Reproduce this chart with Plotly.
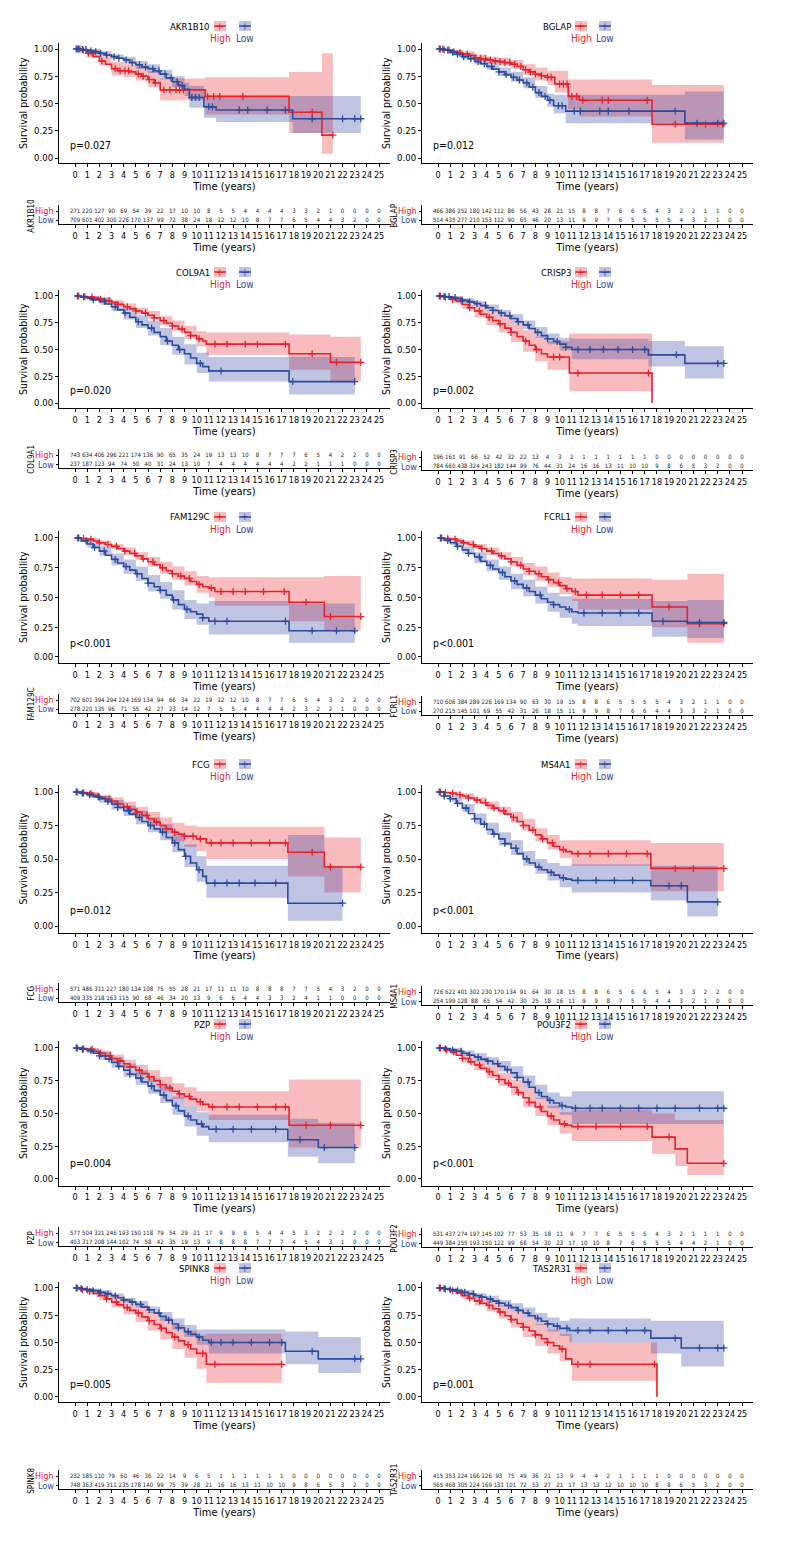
import plotly.graph_objects as go
import numpy as np

YEARS = list(range(26))
HALF = [0, 0.5, 1, 1.5, 2, 2.5, 3, 3.5, 4, 4.5, 5, 5.5, 6, 6.5, 7, 7.5, 8, 8.5, 9, 9.5, 10, 10.5]

# ---------------- AKR1B10 ----------------
akr_hi_t = [0, 0.5, 1, 1.5, 2, 2.5, 3, 3.5, 4, 4.5, 5, 5.5, 6, 6.5, 7, 10.7, 17.6, 20.3, 21.2]
akr_hi_s = [1.0, 0.99, 0.96, 0.93, 0.89, 0.86, 0.82, 0.80, 0.80, 0.79, 0.77, 0.75, 0.72, 0.69, 0.625, 0.565, 0.42, 0.21, 0.21]
akr_hi_ct = [0, 1, 2, 3, 4, 5, 6, 7, 10.7, 17.6, 20.3, 21.2]
akr_hi_lo = [1.0, 0.93, 0.85, 0.76, 0.74, 0.71, 0.65, 0.53, 0.40, 0.23, 0.04, 0.04]
akr_hi_up = [1.0, 0.99, 0.94, 0.88, 0.86, 0.84, 0.80, 0.73, 0.74, 0.79, 0.96, 0.96]
akr_hi_c = [0.2, 0.4, 0.7, 1.1, 1.4, 2.2, 3.3, 3.7, 4.1, 4.4, 5.2, 5.6, 6.1, 6.6, 7.3, 7.8, 8.3, 8.6, 8.9, 10.9, 11.4, 11.9, 13.8, 19.5, 21.2]
akr_lo_t = [0, 0.5, 1, 1.5, 2, 2.5, 3, 3.5, 4, 4.5, 5, 5.5, 6, 6.5, 7, 7.5, 8, 8.5, 9, 9.4, 10.6, 11.6, 17.9, 23.5]
akr_lo_s = [1.0, 0.995, 0.985, 0.975, 0.96, 0.945, 0.93, 0.915, 0.90, 0.875, 0.855, 0.835, 0.82, 0.80, 0.77, 0.735, 0.70, 0.665, 0.63, 0.555, 0.47, 0.44, 0.36, 0.36]
akr_lo_ct = [0, 1, 2, 3, 4, 5, 6, 7, 8, 9, 9.4, 10.6, 11.6, 17.9, 23.5]
akr_lo_lo = [1.0, 0.97, 0.94, 0.91, 0.87, 0.82, 0.78, 0.72, 0.65, 0.57, 0.46, 0.37, 0.33, 0.23, 0.23]
akr_lo_up = [1.0, 1.0, 0.98, 0.95, 0.93, 0.89, 0.86, 0.81, 0.75, 0.69, 0.66, 0.57, 0.57, 0.57, 0.57]
akr_lo_c = [0.1, 0.3, 0.6, 0.9, 1.3, 1.7, 2.1, 2.6, 3.2, 3.6, 4.2, 4.7, 5.3, 5.8, 6.4, 6.9, 7.4, 7.9, 8.4, 8.8, 9.6, 9.9, 10.2, 11.0, 11.3, 13.5, 14.2, 15.8, 17.3, 19.5, 22.0, 23.0, 23.5]
akr_risk_hi = [271, 220, 127, 90, 69, 54, 39, 22, 17, 10, 10, 8, 5, 5, 4, 4, 4, 4, 3, 3, 2, 1, 0, 0, 0, 0]
akr_risk_lo = [709, 601, 402, 300, 226, 170, 137, 99, 72, 38, 24, 18, 12, 12, 10, 8, 7, 7, 6, 5, 4, 4, 3, 2, 0, 0]

# ---------------- BGLAP ----------------
bgl_hi_t = [0, 0.5, 1, 1.5, 2, 2.5, 3, 3.5, 4, 4.5, 5, 5.5, 6, 6.5, 7, 7.5, 8, 8.5, 9, 9.6, 10.7, 11.6, 17.6, 23.5]
bgl_hi_s = [1.0, 0.99, 0.975, 0.965, 0.955, 0.94, 0.92, 0.91, 0.90, 0.89, 0.885, 0.875, 0.86, 0.84, 0.81, 0.79, 0.77, 0.755, 0.74, 0.68, 0.565, 0.53, 0.31, 0.31]
bgl_hi_ct = [0, 1, 2, 3, 4, 5, 6, 7, 8, 9, 9.6, 10.7, 11.6, 17.6, 23.5]
bgl_hi_lo = [1.0, 0.96, 0.93, 0.89, 0.87, 0.85, 0.82, 0.76, 0.71, 0.67, 0.60, 0.45, 0.38, 0.14, 0.14]
bgl_hi_up = [1.0, 0.99, 0.98, 0.95, 0.93, 0.92, 0.90, 0.86, 0.83, 0.80, 0.80, 0.72, 0.72, 0.67, 0.67]
bgl_hi_c = [0.2, 0.5, 0.9, 1.3, 1.8, 2.4, 3.1, 3.5, 3.9, 4.3, 4.7, 5.1, 5.5, 5.9, 6.3, 6.8, 7.2, 7.6, 8.0, 8.5, 9.0, 9.3, 10.0, 10.3, 10.6, 11.0, 11.4, 11.9, 13.5, 14.0, 17.2, 19.5, 22.0, 23.4]
bgl_lo_t = [0, 0.5, 1, 1.5, 2, 2.5, 3, 3.5, 4, 4.5, 5, 5.5, 6, 6.5, 7, 7.5, 8, 8.5, 9, 9.5, 10.5, 20.3, 23.5]
bgl_lo_s = [1.0, 0.99, 0.97, 0.95, 0.93, 0.91, 0.885, 0.865, 0.84, 0.815, 0.79, 0.765, 0.74, 0.715, 0.69, 0.65, 0.60, 0.565, 0.53, 0.48, 0.43, 0.32, 0.32]
bgl_lo_ct = [0, 1, 2, 3, 4, 5, 6, 7, 8, 9, 9.5, 10.5, 20.3, 23.5]
bgl_lo_lo = [1.0, 0.95, 0.91, 0.86, 0.81, 0.75, 0.70, 0.64, 0.55, 0.47, 0.41, 0.32, 0.17, 0.17]
bgl_lo_up = [1.0, 0.99, 0.96, 0.92, 0.88, 0.83, 0.79, 0.74, 0.66, 0.59, 0.58, 0.58, 0.61, 0.61]
bgl_lo_c = [0.1, 0.4, 0.8, 1.2, 1.6, 2.1, 2.7, 3.3, 3.8, 4.4, 5.0, 5.6, 6.2, 6.7, 7.3, 7.8, 8.3, 8.8, 9.2, 9.9, 10.2, 11.2, 11.7, 13.3, 14.0, 15.7, 19.5, 21.3, 23.0, 23.5]
bgl_risk_hi = [466, 386, 252, 180, 142, 112, 86, 56, 43, 28, 21, 15, 8, 8, 7, 6, 6, 6, 4, 3, 2, 2, 1, 1, 0, 0]
bgl_risk_lo = [514, 435, 277, 210, 153, 112, 90, 65, 46, 20, 13, 11, 9, 9, 7, 6, 5, 5, 5, 5, 4, 3, 2, 1, 0, 0]

# ---------------- COL9A1 ----------------
col_hi_t = HALF + [10.8, 17.6, 21.0, 23.5]
col_hi_s = [1.0, 0.995, 0.99, 0.98, 0.97, 0.955, 0.94, 0.92, 0.90, 0.88, 0.86, 0.84, 0.82, 0.795, 0.77, 0.745, 0.72, 0.69, 0.66, 0.63, 0.60, 0.58, 0.55, 0.46, 0.38, 0.38]
col_hi_ct = [0, 1, 2, 3, 4, 5, 6, 7, 8, 9, 10, 10.8, 17.6, 21.0, 23.5]
col_hi_lo = [1.0, 0.98, 0.95, 0.92, 0.88, 0.83, 0.79, 0.73, 0.67, 0.60, 0.53, 0.45, 0.31, 0.20, 0.20]
col_hi_up = [1.0, 1.0, 0.99, 0.96, 0.93, 0.89, 0.86, 0.81, 0.77, 0.72, 0.67, 0.66, 0.64, 0.62, 0.62]
col_hi_c = [0.3, 0.8, 1.4, 2.1, 2.8, 3.5, 4.3, 5.0, 5.8, 6.5, 7.3, 8.0, 8.8, 9.5, 10.2, 11.5, 12.5, 14.0, 15.0, 17.3, 19.5, 21.5, 23.5]
col_lo_t = HALF + [11.0, 17.6, 23.0]
col_lo_s = [1.0, 0.99, 0.98, 0.965, 0.95, 0.925, 0.90, 0.87, 0.84, 0.80, 0.76, 0.73, 0.70, 0.66, 0.62, 0.58, 0.54, 0.50, 0.46, 0.42, 0.37, 0.34, 0.30, 0.20, 0.20]
col_lo_ct = [0, 1, 2, 3, 4, 5, 6, 7, 8, 9, 10, 11, 17.6, 23.0]
col_lo_lo = [1.0, 0.96, 0.92, 0.86, 0.78, 0.70, 0.63, 0.54, 0.45, 0.36, 0.28, 0.20, 0.08, 0.08]
col_lo_up = [1.0, 1.0, 0.98, 0.94, 0.89, 0.82, 0.77, 0.70, 0.62, 0.55, 0.47, 0.43, 0.43, 0.43]
col_lo_c = [0.2, 0.7, 1.5, 2.4, 3.3, 4.1, 5.2, 6.3, 7.6, 8.6, 10.3, 12.0, 17.9, 23.0]
col_risk_hi = [743, 634, 406, 296, 221, 174, 136, 90, 65, 35, 24, 19, 13, 13, 10, 8, 7, 7, 7, 6, 5, 4, 2, 2, 0, 0]
col_risk_lo = [237, 187, 123, 94, 74, 50, 40, 31, 24, 13, 10, 7, 4, 4, 4, 4, 4, 4, 2, 2, 1, 1, 1, 0, 0, 0]

# ---------------- CRISP3 ----------------
cri_hi_t = [0, 0.5, 1, 1.5, 2, 2.5, 3, 3.5, 4, 4.5, 5, 5.5, 6, 6.5, 7, 7.5, 8, 8.5, 9, 10.8, 17.6, 17.6]
cri_hi_s = [1.0, 0.99, 0.97, 0.95, 0.92, 0.89, 0.86, 0.83, 0.80, 0.77, 0.74, 0.70, 0.66, 0.62, 0.58, 0.54, 0.50, 0.46, 0.43, 0.28, 0.0, 0.0]
cri_hi_ct = [0, 1, 2, 3, 4, 5, 6, 7, 8, 9, 10.8, 17.6]
cri_hi_lo = [1.0, 0.94, 0.88, 0.80, 0.73, 0.66, 0.57, 0.48, 0.39, 0.31, 0.11, 0.0]
cri_hi_up = [1.0, 1.0, 0.96, 0.92, 0.87, 0.82, 0.75, 0.68, 0.62, 0.58, 0.65, 0.0]
cri_hi_c = [0.2, 0.6, 1.2, 1.9, 2.6, 3.4, 4.2, 5.1, 6.0, 7.2, 8.1, 9.5, 10.0, 11.5, 17.3]
cri_lo_t = HALF + [11.0, 17.3, 20.3, 23.5]
cri_lo_s = [1.0, 0.995, 0.985, 0.975, 0.96, 0.945, 0.93, 0.91, 0.89, 0.865, 0.84, 0.815, 0.79, 0.76, 0.73, 0.695, 0.66, 0.63, 0.60, 0.575, 0.55, 0.52, 0.50, 0.45, 0.37, 0.37]
cri_lo_ct = [0, 1, 2, 3, 4, 5, 6, 7, 8, 9, 10, 11, 17.3, 20.3, 23.5]
cri_lo_lo = [1.0, 0.97, 0.94, 0.91, 0.86, 0.81, 0.75, 0.69, 0.61, 0.55, 0.49, 0.41, 0.34, 0.23, 0.23]
cri_lo_up = [1.0, 0.995, 0.98, 0.95, 0.92, 0.87, 0.83, 0.77, 0.71, 0.65, 0.61, 0.60, 0.58, 0.53, 0.53]
cri_lo_c = [0.1, 0.5, 0.9, 1.4, 2.0, 2.6, 3.2, 3.9, 4.5, 5.2, 5.9, 6.6, 7.4, 8.2, 9.0, 9.8, 10.5, 11.5, 12.5, 13.6, 14.8, 16.0, 17.0, 19.6, 23.0, 23.5]
cri_risk_hi = [196, 161, 91, 66, 52, 42, 32, 22, 13, 4, 3, 2, 1, 1, 1, 1, 1, 1, 0, 0, 0, 0, 0, 0, 0, 0]
cri_risk_lo = [784, 660, 438, 324, 243, 182, 144, 99, 76, 44, 31, 24, 16, 16, 13, 11, 10, 10, 9, 8, 6, 5, 3, 2, 0, 0]

# ---------------- FAM129C ----------------
fam_hi_t = HALF + [11.0, 11.5, 17.6, 20.5, 23.5]
fam_hi_s = [1.0, 0.995, 0.99, 0.975, 0.96, 0.945, 0.93, 0.91, 0.89, 0.87, 0.85, 0.825, 0.80, 0.775, 0.75, 0.725, 0.70, 0.68, 0.66, 0.635, 0.61, 0.59, 0.58, 0.55, 0.46, 0.34, 0.34]
fam_hi_ct = [0, 1, 2, 3, 4, 5, 6, 7, 8, 9, 10, 11, 11.5, 17.6, 20.5, 23.5]
fam_hi_lo = [1.0, 0.98, 0.94, 0.91, 0.86, 0.82, 0.76, 0.70, 0.65, 0.60, 0.54, 0.50, 0.43, 0.30, 0.22, 0.22]
fam_hi_up = [1.0, 1.0, 0.98, 0.95, 0.92, 0.88, 0.84, 0.80, 0.76, 0.72, 0.68, 0.67, 0.67, 0.67, 0.68, 0.68]
fam_hi_c = [0.2, 0.7, 1.3, 2.0, 2.7, 3.4, 4.1, 4.9, 5.6, 6.4, 7.2, 8.0, 8.7, 9.4, 10.2, 11.2, 12.0, 13.0, 14.0, 15.5, 17.2, 19.0, 21.0, 23.5]
fam_lo_t = HALF + [11.0, 17.6, 23.0]
fam_lo_s = [1.0, 0.975, 0.95, 0.92, 0.89, 0.855, 0.82, 0.79, 0.76, 0.73, 0.70, 0.66, 0.62, 0.59, 0.56, 0.52, 0.48, 0.44, 0.40, 0.38, 0.36, 0.33, 0.30, 0.22, 0.22]
fam_lo_ct = [0, 1, 2, 3, 4, 5, 6, 7, 8, 9, 10, 11, 17.6, 23.0]
fam_lo_lo = [1.0, 0.92, 0.85, 0.77, 0.70, 0.64, 0.55, 0.49, 0.40, 0.32, 0.27, 0.19, 0.12, 0.12]
fam_lo_up = [1.0, 0.98, 0.93, 0.87, 0.82, 0.76, 0.69, 0.63, 0.56, 0.48, 0.45, 0.47, 0.45, 0.45]
fam_lo_c = [0.3, 0.9, 1.6, 2.4, 3.3, 4.2, 5.1, 6.0, 7.0, 8.1, 9.2, 10.5, 11.5, 12.5, 17.3, 19.5, 21.5, 23.0]
fam_risk_hi = [702, 601, 394, 294, 224, 169, 134, 94, 66, 34, 22, 19, 12, 12, 10, 8, 7, 7, 6, 5, 4, 3, 2, 2, 0, 0]
fam_risk_lo = [278, 220, 135, 96, 71, 55, 42, 27, 23, 14, 12, 7, 5, 5, 4, 4, 4, 4, 2, 3, 2, 2, 1, 0, 0, 0]

# ---------------- FCRL1 ----------------
fcr_hi_t = HALF + [11.0, 11.5, 17.6, 20.5, 23.5]
fcr_hi_s = [1.0, 0.995, 0.99, 0.975, 0.96, 0.945, 0.93, 0.91, 0.89, 0.87, 0.85, 0.825, 0.80, 0.77, 0.74, 0.72, 0.70, 0.675, 0.65, 0.625, 0.60, 0.575, 0.55, 0.52, 0.42, 0.28, 0.28]
fcr_hi_ct = [0, 1, 2, 3, 4, 5, 6, 7, 8, 9, 10, 11, 11.5, 17.6, 20.5, 23.5]
fcr_hi_lo = [1.0, 0.98, 0.94, 0.91, 0.86, 0.82, 0.76, 0.69, 0.64, 0.59, 0.53, 0.47, 0.40, 0.25, 0.12, 0.12]
fcr_hi_up = [1.0, 1.0, 0.98, 0.95, 0.92, 0.88, 0.84, 0.79, 0.76, 0.71, 0.67, 0.66, 0.66, 0.65, 0.70, 0.70]
fcr_hi_c = [0.3, 0.8, 1.4, 2.1, 2.9, 3.6, 4.4, 5.2, 6.0, 6.8, 7.5, 8.3, 9.1, 9.9, 10.6, 11.3, 12.2, 13.5, 15.0, 16.5, 19.0, 21.5, 23.5]
fcr_lo_t = HALF + [11.0, 11.5, 17.6, 20.5, 23.5]
fcr_lo_s = [1.0, 0.98, 0.96, 0.93, 0.90, 0.87, 0.84, 0.805, 0.77, 0.74, 0.71, 0.675, 0.64, 0.61, 0.58, 0.55, 0.52, 0.49, 0.46, 0.44, 0.42, 0.40, 0.38, 0.37, 0.30, 0.29, 0.29]
fcr_lo_ct = [0, 1, 2, 3, 4, 5, 6, 7, 8, 9, 10, 11, 11.5, 17.6, 20.5, 23.5]
fcr_lo_lo = [1.0, 0.94, 0.87, 0.79, 0.72, 0.65, 0.57, 0.51, 0.45, 0.38, 0.33, 0.28, 0.26, 0.17, 0.16, 0.16]
fcr_lo_up = [1.0, 0.98, 0.93, 0.88, 0.82, 0.76, 0.70, 0.65, 0.59, 0.54, 0.51, 0.49, 0.49, 0.47, 0.48, 0.48]
fcr_lo_c = [0.2, 0.8, 1.6, 2.5, 3.4, 4.3, 5.3, 6.3, 7.3, 8.4, 9.5, 10.8, 12.0, 13.5, 15.0, 16.5, 18.5, 21.5, 23.5]
fcr_risk_hi = [710, 606, 384, 289, 226, 169, 134, 90, 63, 30, 19, 15, 8, 8, 6, 5, 5, 5, 5, 4, 3, 2, 1, 1, 0, 0]
fcr_risk_lo = [270, 215, 145, 101, 69, 55, 42, 31, 26, 18, 15, 11, 9, 9, 8, 7, 6, 6, 4, 4, 3, 3, 2, 1, 0, 0]

# ---------------- FCG ----------------
fcg_hi_t = [0, 0.5, 1, 1.5, 2, 2.5, 3, 3.5, 4, 4.5, 5, 5.5, 6, 6.5, 7, 7.5, 8, 8.5, 9, 10, 10.8, 17.5, 20.5, 23.5]
fcg_hi_s = [1.0, 0.995, 0.99, 0.975, 0.96, 0.945, 0.93, 0.91, 0.89, 0.87, 0.85, 0.825, 0.80, 0.775, 0.75, 0.725, 0.70, 0.685, 0.67, 0.65, 0.62, 0.55, 0.44, 0.44]
fcg_hi_ct = [0, 1, 2, 3, 4, 5, 6, 7, 8, 9, 10, 10.8, 17.5, 20.5, 23.5]
fcg_hi_lo = [1.0, 0.98, 0.94, 0.90, 0.86, 0.81, 0.75, 0.69, 0.63, 0.59, 0.56, 0.50, 0.37, 0.25, 0.25]
fcg_hi_up = [1.0, 1.0, 0.98, 0.96, 0.93, 0.89, 0.85, 0.81, 0.77, 0.75, 0.74, 0.74, 0.74, 0.66, 0.66]
fcg_hi_c = [0.2, 0.7, 1.3, 2.0, 2.8, 3.5, 4.3, 5.1, 5.9, 6.7, 7.5, 8.2, 9.0, 9.7, 10.3, 11.2, 12.0, 13.0, 14.5, 16.0, 17.3, 19.5, 21.0, 23.5]
fcg_lo_t = HALF + [10.8, 17.5, 22.0]
fcg_lo_s = [1.0, 0.99, 0.98, 0.965, 0.95, 0.93, 0.91, 0.885, 0.86, 0.835, 0.81, 0.78, 0.75, 0.725, 0.70, 0.66, 0.62, 0.57, 0.52, 0.47, 0.42, 0.37, 0.32, 0.17, 0.17]
fcg_lo_ct = [0, 1, 2, 3, 4, 5, 6, 7, 8, 9, 10, 10.8, 17.5, 20.5, 22.0]
fcg_lo_lo = [1.0, 0.96, 0.92, 0.87, 0.82, 0.76, 0.70, 0.64, 0.55, 0.44, 0.33, 0.21, 0.04, 0.04, 0.04]
fcg_lo_up = [1.0, 0.99, 0.97, 0.94, 0.90, 0.86, 0.81, 0.76, 0.69, 0.61, 0.52, 0.45, 0.68, 0.45, 0.45]
fcg_lo_c = [0.1, 0.6, 1.2, 1.9, 2.7, 3.5, 4.4, 5.3, 6.2, 7.2, 8.2, 9.1, 10.2, 11.5, 12.5, 13.5, 14.8, 16.5, 22.0]
fcg_risk_hi = [571, 486, 311, 227, 180, 134, 108, 75, 55, 28, 21, 17, 11, 11, 10, 8, 8, 8, 7, 7, 5, 4, 3, 2, 0, 0]
fcg_risk_lo = [409, 335, 218, 163, 115, 90, 68, 46, 34, 20, 13, 9, 6, 6, 4, 4, 3, 3, 2, 4, 1, 1, 0, 0, 0, 0]

# ---------------- MS4A1 ----------------
ms4_hi_t = HALF + [11.0, 17.5, 23.5]
ms4_hi_s = [1.0, 0.995, 0.99, 0.98, 0.97, 0.955, 0.94, 0.92, 0.90, 0.88, 0.86, 0.835, 0.81, 0.78, 0.75, 0.715, 0.68, 0.65, 0.62, 0.595, 0.57, 0.555, 0.54, 0.43, 0.43]
ms4_hi_ct = [0, 1, 2, 3, 4, 5, 6, 7, 8, 9, 10, 11, 17.5, 23.5]
ms4_hi_lo = [1.0, 0.98, 0.95, 0.92, 0.87, 0.83, 0.77, 0.71, 0.63, 0.57, 0.51, 0.45, 0.26, 0.26]
ms4_hi_up = [1.0, 1.0, 0.99, 0.96, 0.93, 0.89, 0.85, 0.80, 0.73, 0.68, 0.64, 0.64, 0.62, 0.62]
ms4_hi_c = [0.2, 0.6, 1.2, 1.8, 2.5, 3.2, 3.9, 4.6, 5.4, 6.2, 7.0, 7.8, 8.6, 9.4, 10.3, 11.5, 12.5, 14.0, 15.5, 17.2, 19.5, 21.0, 23.5]
ms4_lo_t = HALF + [11.0, 17.5, 20.5, 23.0]
ms4_lo_s = [1.0, 0.97, 0.95, 0.915, 0.88, 0.84, 0.80, 0.76, 0.72, 0.685, 0.65, 0.615, 0.58, 0.54, 0.50, 0.47, 0.44, 0.42, 0.40, 0.38, 0.36, 0.35, 0.34, 0.30, 0.18, 0.18]
ms4_lo_ct = [0, 1, 2, 3, 4, 5, 6, 7, 8, 9, 10, 11, 17.5, 20.5, 23.0]
ms4_lo_lo = [1.0, 0.93, 0.85, 0.76, 0.68, 0.60, 0.53, 0.45, 0.39, 0.34, 0.29, 0.25, 0.19, 0.07, 0.07]
ms4_lo_up = [1.0, 0.97, 0.91, 0.84, 0.77, 0.70, 0.64, 0.56, 0.50, 0.47, 0.45, 0.46, 0.45, 0.45, 0.45]
ms4_lo_c = [0.1, 0.5, 1.0, 1.6, 2.3, 3.0, 3.8, 4.6, 5.5, 6.4, 7.3, 8.3, 9.3, 10.3, 11.5, 13.0, 14.5, 16.0, 19.0, 20.0, 23.0]
ms4_risk_hi = [726, 622, 401, 302, 230, 170, 134, 91, 64, 30, 18, 15, 8, 8, 6, 5, 6, 6, 5, 4, 3, 3, 2, 2, 0, 0]
ms4_risk_lo = [254, 199, 128, 88, 65, 54, 42, 30, 25, 18, 16, 11, 9, 9, 8, 7, 5, 5, 4, 4, 3, 2, 1, 0, 0, 0]

# ---------------- PZP ----------------
pzp_hi_t = HALF + [11.0, 17.6, 23.5]
pzp_hi_s = [1.0, 0.995, 0.99, 0.975, 0.96, 0.94, 0.92, 0.90, 0.88, 0.855, 0.83, 0.805, 0.78, 0.75, 0.72, 0.695, 0.67, 0.65, 0.63, 0.61, 0.59, 0.57, 0.55, 0.41, 0.41]
pzp_hi_ct = [0, 1, 2, 3, 4, 5, 6, 7, 8, 9, 10, 11, 17.6, 23.5]
pzp_hi_lo = [1.0, 0.98, 0.94, 0.90, 0.85, 0.79, 0.74, 0.67, 0.61, 0.56, 0.52, 0.45, 0.24, 0.24]
pzp_hi_up = [1.0, 1.0, 0.98, 0.95, 0.91, 0.87, 0.83, 0.78, 0.73, 0.70, 0.67, 0.67, 0.76, 0.76]
pzp_hi_c = [0.2, 0.7, 1.4, 2.1, 2.9, 3.7, 4.5, 5.3, 6.1, 7.0, 7.8, 8.6, 9.4, 10.3, 11.3, 12.5, 13.5, 15.0, 16.5, 17.3, 19.0, 21.0, 23.5]
pzp_lo_t = HALF + [11.0, 17.5, 20.0, 23.0]
pzp_lo_s = [1.0, 0.99, 0.98, 0.96, 0.94, 0.915, 0.89, 0.86, 0.83, 0.80, 0.77, 0.74, 0.71, 0.675, 0.64, 0.60, 0.56, 0.52, 0.48, 0.45, 0.42, 0.40, 0.38, 0.30, 0.24, 0.24]
pzp_lo_ct = [0, 1, 2, 3, 4, 5, 6, 7, 8, 9, 10, 11, 17.5, 20.0, 23.0]
pzp_lo_lo = [1.0, 0.96, 0.91, 0.85, 0.78, 0.72, 0.65, 0.58, 0.49, 0.40, 0.33, 0.28, 0.17, 0.12, 0.12]
pzp_lo_up = [1.0, 0.995, 0.97, 0.93, 0.88, 0.83, 0.77, 0.71, 0.63, 0.56, 0.51, 0.49, 0.46, 0.43, 0.43]
pzp_lo_c = [0.1, 0.6, 1.3, 2.0, 2.8, 3.6, 4.5, 5.4, 6.3, 7.3, 8.3, 9.3, 10.4, 11.6, 13.0, 14.5, 16.5, 18.5, 20.5, 23.0]
pzp_risk_hi = [577, 504, 321, 246, 193, 150, 118, 79, 54, 29, 21, 17, 9, 9, 6, 5, 4, 4, 5, 3, 2, 2, 2, 2, 0, 0]
pzp_risk_lo = [403, 317, 208, 144, 102, 74, 58, 42, 35, 19, 13, 9, 8, 8, 8, 7, 7, 7, 4, 5, 4, 3, 1, 0, 0, 0]

# ---------------- POU3F2 ----------------
pou_hi_t = HALF + [11.0, 17.6, 19.5, 20.5, 23.5]
pou_hi_s = [1.0, 0.985, 0.97, 0.945, 0.92, 0.895, 0.87, 0.845, 0.82, 0.79, 0.76, 0.73, 0.70, 0.66, 0.62, 0.585, 0.55, 0.515, 0.48, 0.45, 0.42, 0.41, 0.40, 0.32, 0.23, 0.12, 0.12]
pou_hi_ct = [0, 1, 2, 3, 4, 5, 6, 7, 8, 9, 10, 11, 17.6, 19.5, 20.5, 23.5]
pou_hi_lo = [1.0, 0.95, 0.89, 0.83, 0.77, 0.71, 0.64, 0.55, 0.48, 0.41, 0.35, 0.29, 0.19, 0.10, 0.03, 0.03]
pou_hi_up = [1.0, 0.99, 0.95, 0.91, 0.87, 0.81, 0.76, 0.69, 0.62, 0.56, 0.51, 0.53, 0.50, 0.45, 0.45, 0.45]
pou_hi_c = [0.2, 0.7, 1.3, 2.0, 2.7, 3.4, 4.2, 5.0, 5.8, 6.6, 7.5, 8.4, 9.3, 10.4, 11.5, 13.0, 15.0, 17.2, 19.0, 23.5]
pou_lo_t = HALF + [11.0, 23.5]
pou_lo_s = [1.0, 0.995, 0.985, 0.975, 0.96, 0.945, 0.93, 0.915, 0.90, 0.88, 0.86, 0.835, 0.81, 0.775, 0.74, 0.70, 0.66, 0.63, 0.60, 0.58, 0.56, 0.55, 0.54, 0.54]
pou_lo_ct = [0, 1, 2, 3, 4, 5, 6, 7, 8, 9, 10, 11, 23.5]
pou_lo_lo = [1.0, 0.97, 0.94, 0.90, 0.87, 0.82, 0.77, 0.69, 0.61, 0.54, 0.49, 0.42, 0.42]
pou_lo_up = [1.0, 1.0, 0.98, 0.96, 0.93, 0.90, 0.86, 0.79, 0.72, 0.66, 0.63, 0.67, 0.67]
pou_lo_c = [0.1, 0.6, 1.2, 1.9, 2.6, 3.3, 4.1, 4.9, 5.7, 6.5, 7.4, 8.3, 9.2, 10.2, 11.3, 12.5, 13.5, 15.0, 16.5, 18.0, 19.5, 21.5, 23.0, 23.5]
pou_risk_hi = [531, 437, 274, 197, 145, 102, 77, 53, 35, 18, 11, 9, 7, 7, 6, 5, 5, 5, 4, 3, 2, 1, 1, 1, 0, 0]
pou_risk_lo = [449, 384, 255, 193, 150, 122, 99, 68, 54, 30, 23, 17, 10, 10, 8, 7, 6, 6, 5, 5, 4, 4, 2, 1, 0, 0]

# ---------------- SPINK8 ----------------
spi_hi_t = [0, 0.5, 1, 1.5, 2, 2.5, 3, 3.5, 4, 4.5, 5, 5.5, 6, 6.5, 7, 7.5, 8, 8.5, 9, 9.5, 10, 10.8, 17.0]
spi_hi_s = [1.0, 0.985, 0.97, 0.95, 0.93, 0.90, 0.87, 0.845, 0.82, 0.795, 0.77, 0.735, 0.70, 0.665, 0.63, 0.59, 0.55, 0.515, 0.48, 0.44, 0.40, 0.30, 0.30]
spi_hi_ct = [0, 1, 2, 3, 4, 5, 6, 7, 8, 9, 10, 10.8, 17.0]
spi_hi_lo = [1.0, 0.94, 0.89, 0.82, 0.76, 0.69, 0.61, 0.53, 0.44, 0.36, 0.26, 0.13, 0.13]
spi_hi_up = [1.0, 0.99, 0.96, 0.92, 0.88, 0.84, 0.78, 0.73, 0.66, 0.61, 0.57, 0.58, 0.58]
spi_hi_c = [0.2, 0.6, 1.2, 1.9, 2.6, 3.4, 4.3, 5.2, 6.1, 7.1, 8.2, 9.3, 10.5, 11.5, 17.0]
spi_lo_t = HALF + [11.0, 17.3, 20.0, 23.5]
spi_lo_s = [1.0, 0.995, 0.985, 0.975, 0.96, 0.945, 0.93, 0.91, 0.89, 0.87, 0.85, 0.825, 0.80, 0.77, 0.74, 0.705, 0.67, 0.635, 0.60, 0.575, 0.55, 0.52, 0.50, 0.42, 0.35, 0.35]
spi_lo_ct = [0, 1, 2, 3, 4, 5, 6, 7, 8, 9, 10, 11, 17.3, 20.0, 23.5]
spi_lo_lo = [1.0, 0.97, 0.94, 0.91, 0.87, 0.82, 0.77, 0.70, 0.62, 0.55, 0.48, 0.40, 0.30, 0.22, 0.22]
spi_lo_up = [1.0, 0.995, 0.98, 0.95, 0.91, 0.88, 0.83, 0.78, 0.72, 0.66, 0.62, 0.62, 0.60, 0.55, 0.55]
spi_lo_c = [0.1, 0.5, 1.0, 1.5, 2.1, 2.7, 3.3, 4.0, 4.7, 5.4, 6.1, 6.9, 7.7, 8.5, 9.3, 10.2, 11.2, 12.0, 13.0, 14.5, 16.0, 17.0, 19.5, 23.0, 23.5]
spi_risk_hi = [232, 185, 110, 79, 60, 46, 36, 22, 14, 9, 6, 5, 1, 1, 1, 1, 1, 1, 0, 0, 0, 0, 0, 0, 0, 0]
spi_risk_lo = [748, 363, 419, 311, 235, 178, 140, 99, 75, 39, 28, 21, 16, 16, 13, 11, 10, 10, 9, 8, 6, 5, 3, 2, 0, 0]

# ---------------- TAS2R31 ----------------
tas_hi_t = HALF + [11.0, 18.0, 18.0]
tas_hi_s = [1.0, 0.99, 0.975, 0.955, 0.93, 0.905, 0.88, 0.86, 0.84, 0.81, 0.78, 0.745, 0.71, 0.675, 0.64, 0.605, 0.57, 0.535, 0.50, 0.47, 0.44, 0.35, 0.30, 0.0, 0.0]
tas_hi_ct = [0, 1, 2, 3, 4, 5, 6, 7, 8, 9, 10, 11, 18.0]
tas_hi_lo = [1.0, 0.96, 0.90, 0.84, 0.79, 0.72, 0.64, 0.55, 0.47, 0.40, 0.33, 0.15, 0.0]
tas_hi_up = [1.0, 0.99, 0.96, 0.92, 0.89, 0.84, 0.78, 0.72, 0.67, 0.62, 0.58, 0.50, 0.0]
tas_hi_c = [0.2, 0.6, 1.2, 1.9, 2.6, 3.4, 4.2, 5.1, 6.0, 7.0, 8.0, 9.0, 10.2, 11.5, 12.5, 17.8]
tas_lo_t = [0, 0.5, 1, 1.5, 2, 2.5, 3, 3.5, 4, 4.5, 5, 5.5, 6, 6.5, 7, 7.5, 8, 8.5, 9, 9.5, 10, 10.8, 17.5, 20.0, 23.5]
tas_lo_s = [1.0, 0.995, 0.985, 0.975, 0.96, 0.945, 0.93, 0.915, 0.90, 0.88, 0.86, 0.84, 0.82, 0.795, 0.77, 0.745, 0.72, 0.695, 0.67, 0.65, 0.63, 0.61, 0.54, 0.45, 0.45]
tas_lo_ct = [0, 1, 2, 3, 4, 5, 6, 7, 8, 9, 10, 10.8, 17.5, 20.0, 23.5]
tas_lo_lo = [1.0, 0.97, 0.94, 0.91, 0.87, 0.83, 0.78, 0.72, 0.66, 0.60, 0.56, 0.50, 0.40, 0.28, 0.28]
tas_lo_up = [1.0, 0.995, 0.98, 0.95, 0.93, 0.89, 0.86, 0.82, 0.77, 0.73, 0.70, 0.72, 0.70, 0.70, 0.70]
tas_lo_c = [0.1, 0.5, 1.0, 1.6, 2.2, 2.9, 3.6, 4.3, 5.0, 5.8, 6.6, 7.4, 8.2, 9.0, 9.8, 10.6, 11.5, 12.5, 14.0, 15.5, 17.0, 19.5, 21.5, 23.0, 23.5]
tas_risk_hi = [415, 353, 224, 166, 126, 93, 75, 49, 36, 21, 13, 9, 4, 4, 2, 1, 1, 1, 1, 0, 0, 0, 0, 0, 0, 0]
tas_risk_lo = [565, 468, 305, 224, 169, 131, 101, 72, 53, 27, 21, 17, 13, 13, 12, 10, 10, 10, 8, 8, 6, 5, 3, 2, 0, 0]

genes = ["AKR1B10", "BGLAP", "COL9A1", "CRISP3", "FAM129C", "FCRL1",
         "FCG", "MS4A1", "PZP", "POU3F2", "SPINK8", "TAS2R31"]
pvals = ["p=0.027", "p=0.012", "p=0.020", "p=0.002", "p<0.001", "p<0.001",
         "p=0.012", "p<0.001", "p=0.004", "p<0.001", "p=0.005", "p=0.001"]

data = [
    (akr_hi_t, akr_hi_s, akr_hi_ct, akr_hi_lo, akr_hi_up, akr_hi_c, akr_lo_t, akr_lo_s, akr_lo_ct, akr_lo_lo, akr_lo_up, akr_lo_c, akr_risk_hi, akr_risk_lo),
    (bgl_hi_t, bgl_hi_s, bgl_hi_ct, bgl_hi_lo, bgl_hi_up, bgl_hi_c, bgl_lo_t, bgl_lo_s, bgl_lo_ct, bgl_lo_lo, bgl_lo_up, bgl_lo_c, bgl_risk_hi, bgl_risk_lo),
    (col_hi_t, col_hi_s, col_hi_ct, col_hi_lo, col_hi_up, col_hi_c, col_lo_t, col_lo_s, col_lo_ct, col_lo_lo, col_lo_up, col_lo_c, col_risk_hi, col_risk_lo),
    (cri_hi_t, cri_hi_s, cri_hi_ct, cri_hi_lo, cri_hi_up, cri_hi_c, cri_lo_t, cri_lo_s, cri_lo_ct, cri_lo_lo, cri_lo_up, cri_lo_c, cri_risk_hi, cri_risk_lo),
    (fam_hi_t, fam_hi_s, fam_hi_ct, fam_hi_lo, fam_hi_up, fam_hi_c, fam_lo_t, fam_lo_s, fam_lo_ct, fam_lo_lo, fam_lo_up, fam_lo_c, fam_risk_hi, fam_risk_lo),
    (fcr_hi_t, fcr_hi_s, fcr_hi_ct, fcr_hi_lo, fcr_hi_up, fcr_hi_c, fcr_lo_t, fcr_lo_s, fcr_lo_ct, fcr_lo_lo, fcr_lo_up, fcr_lo_c, fcr_risk_hi, fcr_risk_lo),
    (fcg_hi_t, fcg_hi_s, fcg_hi_ct, fcg_hi_lo, fcg_hi_up, fcg_hi_c, fcg_lo_t, fcg_lo_s, fcg_lo_ct, fcg_lo_lo, fcg_lo_up, fcg_lo_c, fcg_risk_hi, fcg_risk_lo),
    (ms4_hi_t, ms4_hi_s, ms4_hi_ct, ms4_hi_lo, ms4_hi_up, ms4_hi_c, ms4_lo_t, ms4_lo_s, ms4_lo_ct, ms4_lo_lo, ms4_lo_up, ms4_lo_c, ms4_risk_hi, ms4_risk_lo),
    (pzp_hi_t, pzp_hi_s, pzp_hi_ct, pzp_hi_lo, pzp_hi_up, pzp_hi_c, pzp_lo_t, pzp_lo_s, pzp_lo_ct, pzp_lo_lo, pzp_lo_up, pzp_lo_c, pzp_risk_hi, pzp_risk_lo),
    (pou_hi_t, pou_hi_s, pou_hi_ct, pou_hi_lo, pou_hi_up, pou_hi_c, pou_lo_t, pou_lo_s, pou_lo_ct, pou_lo_lo, pou_lo_up, pou_lo_c, pou_risk_hi, pou_risk_lo),
    (spi_hi_t, spi_hi_s, spi_hi_ct, spi_hi_lo, spi_hi_up, spi_hi_c, spi_lo_t, spi_lo_s, spi_lo_ct, spi_lo_lo, spi_lo_up, spi_lo_c, spi_risk_hi, spi_risk_lo),
    (tas_hi_t, tas_hi_s, tas_hi_ct, tas_hi_lo, tas_hi_up, tas_hi_c, tas_lo_t, tas_lo_s, tas_lo_ct, tas_lo_lo, tas_lo_up, tas_lo_c, tas_risk_hi, tas_risk_lo),
]

# ---------------- layout geometry (pixels) ----------------
W, H = 792, 1560
FONT = "DejaVu Sans Condensed, Liberation Sans Narrow, Roboto Condensed, Roboto, sans-serif"
RED = "#E8212A"
BLUE = "#2B4B9B"
RED_F = "rgba(232,33,42,0.30)"
BLUE_F = "rgba(43,60,160,0.30)"

COLX = [(59, 390), (422, 753)]
ROWS = [(49, 158), (296, 403), (538, 657), (792, 926), (1048, 1179), (1288, 1397)]
LEG_Y = [26, 272, 517, 764, 1024, 1268]
RISK_Y = [(211, 211), (455, 457), (700, 702), (989, 992), (1233, 1234), (1476, 1476)]
RISK_TITLE = [True, True, True, False, False, True]
LEG_X = [(220, 245), (581, 605)]
XR = [-1.32, 25.9]


def fx(px):
    return px / W


def fy(py):
    return 1 - py / H


def step_val(t, s, c):
    idx = np.searchsorted(np.array(t), c, side="right") - 1
    return [s[max(0, min(i, len(s) - 1))] for i in idx]


def band_poly(t, lo, up):
    xs, ys = [], []
    for i in range(len(t) - 1):
        xs += [t[i], t[i + 1]]
        ys += [up[i], up[i]]
    for i in reversed(range(len(t) - 1)):
        xs += [t[i + 1], t[i]]
        ys += [lo[i], lo[i]]
    return xs, ys


fig = go.Figure()
lay = {}
annotations = []
shapes = []

axis_common = dict(showgrid=False, zeroline=False, showline=True, linecolor="black", linewidth=1,
                   ticks="outside", ticklen=3, tickcolor="black", tickangle=0,
                   tickfont=dict(family=FONT, size=9, color="black"))
title_font = dict(family=FONT, size=11, color="black")

for k in range(12):
    row, col = divmod(k, 2)
    (hi_t, hi_s, hi_ct, hi_lo, hi_up, hi_c, lo_t, lo_s, lo_ct, lo_lo, lo_up, lo_c, r_hi, r_lo) = data[k]
    x0, x1 = COLX[col]
    a, b = ROWS[row]
    h = b - a
    top, bot = a - 0.055 * h, b + 0.05 * h
    ikm, irt = 2 * k + 1, 2 * k + 2
    xa_km, ya_km = f"x{ikm}", f"y{ikm}"
    xa_rt, ya_rt = f"x{irt}", f"y{irt}"

    lay[f"xaxis{ikm}"] = dict(axis_common, domain=[fx(x0), fx(x1)], range=XR, anchor=ya_km,
                              tickvals=YEARS, ticktext=[str(v) for v in YEARS],
                              title=dict(text="Time (years)", font=title_font, standoff=0))
    lay[f"yaxis{ikm}"] = dict(axis_common, domain=[fy(bot), fy(top)], range=[-0.05, 1.055], anchor=xa_km,
                              tickvals=[0, 0.25, 0.5, 0.75, 1.0], ticktext=["0.00", "0.25", "0.50", "0.75", "1.00"],
                              tickfont=dict(family=FONT, size=9.5, color="black"),
                              title=dict(text="Survival probability", font=dict(family=FONT, size=10.5, color="black"), standoff=4))

    bx, by = band_poly(hi_ct, hi_lo, hi_up)
    fig.add_trace(go.Scatter(x=bx, y=by, fill="toself", fillcolor=RED_F, line=dict(width=0),
                             mode="lines", hoverinfo="skip", showlegend=False, xaxis=xa_km, yaxis=ya_km))
    bx, by = band_poly(lo_ct, lo_lo, lo_up)
    fig.add_trace(go.Scatter(x=bx, y=by, fill="toself", fillcolor=BLUE_F, line=dict(width=0),
                             mode="lines", hoverinfo="skip", showlegend=False, xaxis=xa_km, yaxis=ya_km))
    for t, s, c, colr in [(hi_t, hi_s, hi_c, RED), (lo_t, lo_s, lo_c, BLUE)]:
        fig.add_trace(go.Scatter(x=t, y=s, mode="lines", line=dict(color=colr, width=1.6, shape="hv"),
                                 showlegend=False, hoverinfo="skip", xaxis=xa_km, yaxis=ya_km))
        fig.add_trace(go.Scatter(x=c, y=step_val(t, s, c), mode="markers",
                                 marker=dict(symbol="cross-thin", size=5, line=dict(color=colr, width=1.3)),
                                 showlegend=False, hoverinfo="skip", xaxis=xa_km, yaxis=ya_km))
    annotations.append(dict(x=-0.6, y=0.12, xref=xa_km, yref=ya_km, text=pvals[k], showarrow=False,
                            xanchor="left", yanchor="middle", font=dict(family=FONT, size=10.5, color="black")))

    ly = LEG_Y[row]
    rx, bxp = LEG_X[col]
    annotations.append(dict(x=fx(rx - 8), y=fy(ly), xref="paper", yref="paper", text=genes[k], showarrow=False,
                            xanchor="right", yanchor="middle", font=dict(family=FONT, size=9.5, color="black")))
    for cx, fc, lc, lab in [(rx, RED_F, RED, "High"), (bxp, BLUE_F, BLUE, "Low")]:
        shapes.append(dict(type="rect", xref="paper", yref="paper", x0=fx(cx - 6), x1=fx(cx + 6),
                           y0=fy(ly + 5), y1=fy(ly - 5), fillcolor=fc, line=dict(width=0)))
        shapes.append(dict(type="line", xref="paper", yref="paper", x0=fx(cx - 6), x1=fx(cx + 6),
                           y0=fy(ly), y1=fy(ly), line=dict(color=lc, width=1.5)))
        annotations.append(dict(x=fx(cx), y=fy(ly), xref="paper", yref="paper", text="+", showarrow=False,
                                xanchor="center", yanchor="middle", font=dict(family=FONT, size=10, color=lc)))
        annotations.append(dict(x=fx(cx), y=fy(ly + 12), xref="paper", yref="paper", text=lab, showarrow=False,
                                xanchor="center", yanchor="middle", font=dict(family=FONT, size=10, color=lc)))

    hy = RISK_Y[row][col]
    lyy = hy + 9.5
    rtop, rbot = hy - 0.6 * 9.5, lyy + 0.35 * 9.5
    xr_axis = dict(axis_common, domain=[fx(x0), fx(x1)], range=XR, anchor=ya_rt,
                   tickvals=YEARS, ticktext=[str(v) for v in YEARS])
    if RISK_TITLE[row]:
        xr_axis["title"] = dict(text="Time (years)", font=title_font, standoff=0)
    lay[f"xaxis{irt}"] = xr_axis
    lay[f"yaxis{irt}"] = dict(axis_common, domain=[fy(rbot), fy(rtop)], range=[-0.35, 1.6], anchor=xa_rt,
                              tickvals=[0, 1], showticklabels=False, ticklen=2)
    fig.add_trace(go.Scatter(x=YEARS, y=[1] * 26, mode="text", text=[str(v) for v in r_hi],
                             textfont=dict(family=FONT, size=6, color="#222"), showlegend=False,
                             hoverinfo="skip", xaxis=xa_rt, yaxis=ya_rt))
    fig.add_trace(go.Scatter(x=YEARS, y=[0] * 26, mode="text", text=[str(v) for v in r_lo],
                             textfont=dict(family=FONT, size=6, color="#222"), showlegend=False,
                             hoverinfo="skip", xaxis=xa_rt, yaxis=ya_rt))
    lab_x = x0 - 3
    annotations.append(dict(x=fx(lab_x), y=fy(hy), xref="paper", yref="paper", text="High", showarrow=False,
                            xanchor="right", yanchor="middle", font=dict(family=FONT, size=9, color=RED)))
    annotations.append(dict(x=fx(lab_x), y=fy(lyy), xref="paper", yref="paper", text="Low", showarrow=False,
                            xanchor="right", yanchor="middle", font=dict(family=FONT, size=9, color=BLUE)))
    annotations.append(dict(x=fx(x0 - 27), y=fy((hy + lyy) / 2), xref="paper", yref="paper", text=genes[k],
                            showarrow=False, textangle=-90, xanchor="center", yanchor="middle",
                            font=dict(family=FONT, size=8, color="black")))

fig.update_layout(width=W, height=H, margin=dict(l=0, r=0, t=0, b=0),
                  paper_bgcolor="white", plot_bgcolor="white",
                  annotations=annotations, shapes=shapes, showlegend=False, **lay)

fig.write_html("out.html", config={"displayModeBar": False},
               post_script="document.body.style.margin='0px';document.body.style.padding='0px';")
